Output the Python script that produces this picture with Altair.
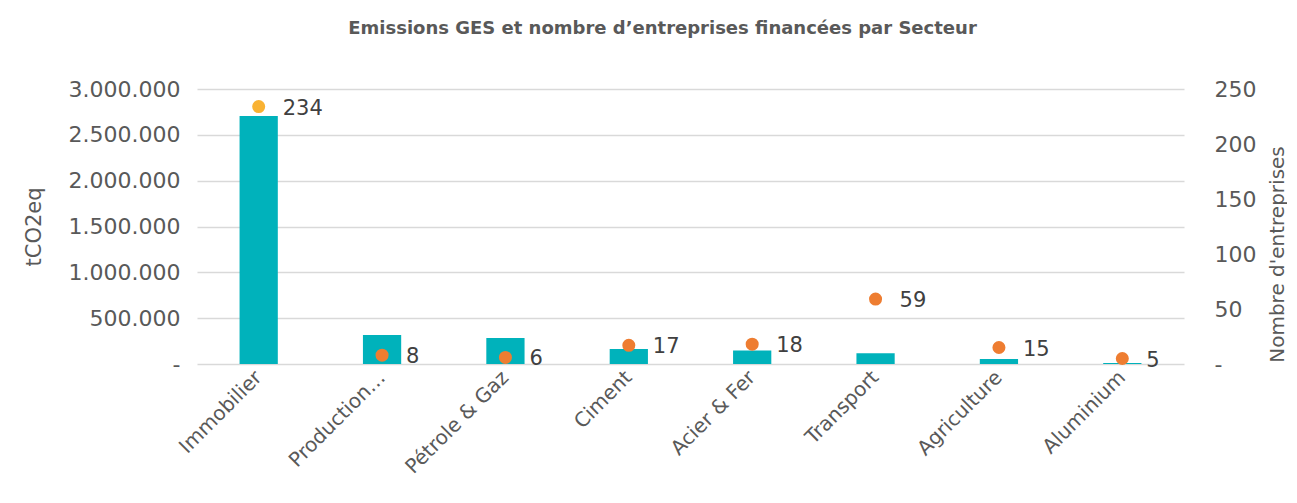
import altair as alt
import pandas as pd

sectors = ["Immobilier", "Production…", "Pétrole & Gaz", "Ciment", "Acier & Fer",
           "Transport", "Agriculture", "Aluminium"]
emissions = [2705000, 316000, 284000, 164000, 146000, 117000, 55000, 12000]
companies = [234, 8, 6, 17, 18, 59, 15, 5]

df = pd.DataFrame({"Secteur": sectors, "Emissions": emissions, "Entreprises": companies})

FONT = "DejaVu Sans"
GREY = "#595959"

x_enc = alt.X("Secteur:N", sort=sectors, title=None,
              scale=alt.Scale(paddingInner=0.69, paddingOuter=0.345),
              axis=alt.Axis(labelAngle=-45, labelAlign="right", labelBaseline="middle",
                            labelFontSize=20, labelColor=GREY, labelFont=FONT,
                            domain=False, ticks=False, labelPadding=10, labelLimit=300))

left_fmt = "datum.value == 0 ? '-' : replace(format(datum.value, ','), regexp(',', 'g'), '.')"

bars = alt.Chart(df).mark_bar(color="#00B2BB").encode(
    x=x_enc,
    y=alt.Y("Emissions:Q", title="tCO2eq",
            scale=alt.Scale(domain=[0, 3000000], nice=False),
            axis=alt.Axis(values=[0, 500000, 1000000, 1500000, 2000000, 2500000, 3000000],
                          labelExpr=left_fmt, labelFontSize=22, labelColor=GREY, labelFont=FONT,
                          titleFontSize=21, titleColor=GREY, titleFont=FONT, titleFontWeight="normal",
                          domain=False, ticks=False, labelPadding=17, titlePadding=24,
                          grid=True, gridColor="#D9D9D9", gridWidth=1.5)),
)

right_axis = alt.Axis(orient="right", values=[0, 50, 100, 150, 200, 250],
                      labelExpr="datum.value == 0 ? '-' : format(datum.value, 'd')",
                      labelFontSize=22, labelColor=GREY, labelFont=FONT,
                      titleFontSize=20, titleColor=GREY, titleFont=FONT, titleFontWeight="normal",
                      titleAngle=270, titleBaseline="middle", titleAlign="center",
                      titleX=93, titleY=165,
                      domain=False, ticks=False, grid=False, labelPadding=30)

y_right = alt.Y("Entreprises:Q", title="Nombre d'entreprises",
                scale=alt.Scale(domain=[0, 250], nice=False), axis=right_axis)

points = alt.Chart(df).mark_circle(size=170, opacity=1).encode(
    x=x_enc,
    y=y_right,
    color=alt.condition(alt.datum.Secteur == "Immobilier", alt.value("#F9B233"), alt.value("#EE7D31")),
)

labels = alt.Chart(df).mark_text(align="left", baseline="middle", dx=24, dy=2,
                                 fontSize=21, font=FONT, color="#404040").encode(
    x=x_enc,
    y=y_right,
    text=alt.Text("Entreprises:Q"),
)

right_layer = alt.layer(points, labels)

chart = alt.layer(bars, right_layer).resolve_scale(y="independent").properties(
    width=987, height=275,
    title=alt.TitleParams("Emissions GES et nombre d’entreprises financées par Secteur",
                          font=FONT, fontSize=18, fontWeight="bold", color=GREY,
                          anchor="middle", offset=40, dx=-28),
    padding={"left": 15, "top": 12, "right": 0, "bottom": 0},
).configure(background="white").configure_view(stroke=None)

chart.save("out.html", embed_options={"renderer": "svg", "actions": False})
